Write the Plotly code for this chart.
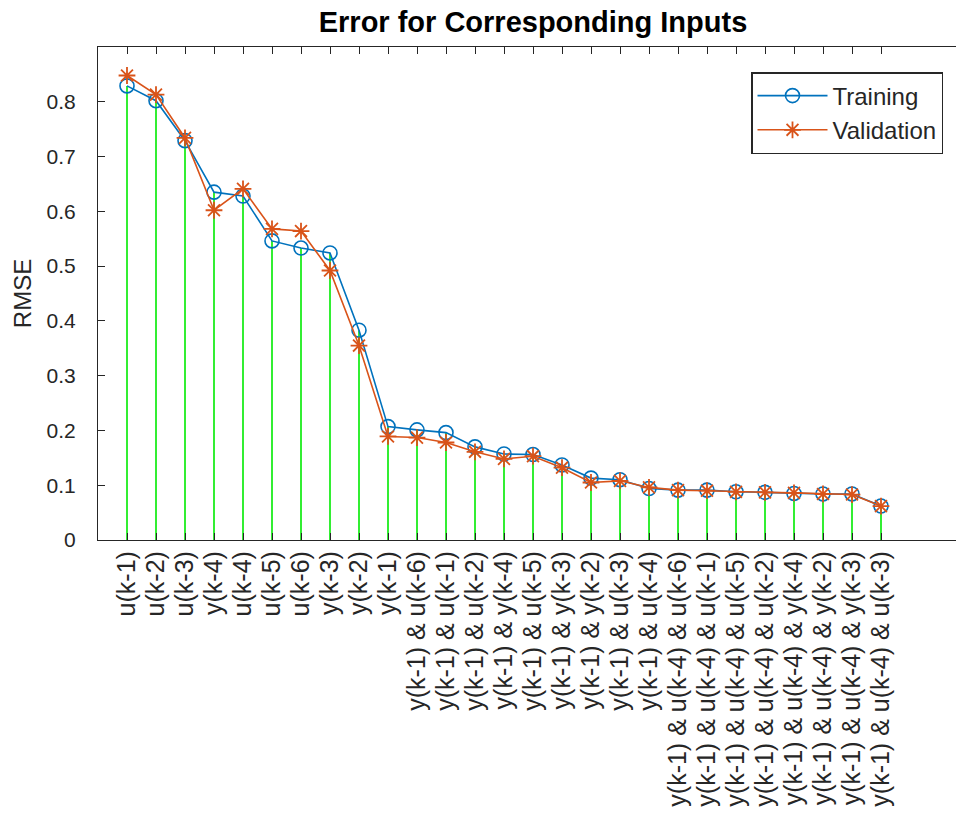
import plotly.graph_objects as go

# Candidate regressor sets, in the order they were evaluated
input_labels = [
    "u(k-1)", "u(k-2)", "u(k-3)", "y(k-4)", "u(k-4)", "u(k-5)", "u(k-6)",
    "y(k-3)", "y(k-2)", "y(k-1)",
    "y(k-1) & u(k-6)", "y(k-1) & u(k-1)", "y(k-1) & u(k-2)", "y(k-1) & y(k-4)",
    "y(k-1) & u(k-5)", "y(k-1) & y(k-3)", "y(k-1) & y(k-2)", "y(k-1) & u(k-3)",
    "y(k-1) & u(k-4)",
    "y(k-1) & u(k-4) & u(k-6)", "y(k-1) & u(k-4) & u(k-1)",
    "y(k-1) & u(k-4) & u(k-5)", "y(k-1) & u(k-4) & u(k-2)",
    "y(k-1) & u(k-4) & y(k-4)", "y(k-1) & u(k-4) & y(k-2)",
    "y(k-1) & u(k-4) & y(k-3)", "y(k-1) & u(k-4) & u(k-3)",
]

rmse_training = [
    0.829, 0.802, 0.729, 0.635, 0.628, 0.546, 0.533, 0.524, 0.383, 0.207,
    0.201, 0.196, 0.170, 0.157, 0.156, 0.137, 0.113, 0.110, 0.094,
    0.091, 0.091, 0.088, 0.087, 0.085, 0.084, 0.084, 0.062,
]

rmse_validation = [
    0.848, 0.813, 0.734, 0.602, 0.641, 0.568, 0.564, 0.492, 0.355, 0.189,
    0.187, 0.178, 0.161, 0.148, 0.153, 0.132, 0.105, 0.108, 0.096,
    0.091, 0.090, 0.088, 0.087, 0.086, 0.084, 0.083, 0.062,
]

y_ticks = [0, 0.1, 0.2, 0.3, 0.4, 0.5, 0.6, 0.7, 0.8]

idx = list(range(1, len(input_labels) + 1))

# stem segments from the baseline up to each training error
stem_x, stem_y = [], []
for i, v in zip(idx, rmse_training):
    stem_x += [i, i, None]
    stem_y += [0, v, None]

FONT = "Liberation Sans, Arial, Helvetica, sans-serif"
INK = "#262626"

fig = go.Figure()
fig.add_trace(go.Scatter(
    x=stem_x, y=stem_y, mode="lines",
    line=dict(color="#33ee33", width=2),
    showlegend=False, hoverinfo="skip",
))
fig.add_trace(go.Scatter(
    x=idx, y=rmse_training, mode="lines+markers", name="Training",
    line=dict(color="#0072BD", width=1.6),
    marker=dict(symbol="circle-open", size=14, color="#0072BD",
                line=dict(width=1.6, color="#0072BD")),
))
fig.add_trace(go.Scatter(
    x=idx, y=rmse_validation, mode="lines+markers", name="Validation",
    line=dict(color="#D95319", width=1.6),
    marker=dict(symbol="asterisk-open", size=14, color="#D95319",
                line=dict(width=1.8, color="#D95319")),
))

W, H = 956, 822
plot_left, plot_right = 98, 956
plot_top, plot_bottom = 47, 540
unit_px = 29.0
x_max = (plot_right - plot_left) / unit_px
pw = plot_right - plot_left
ph = plot_bottom - plot_top

fig.update_layout(
    width=W, height=H,
    margin=dict(l=plot_left, r=W - plot_right, t=plot_top, b=H - plot_bottom,
                pad=0, autoexpand=False),
    paper_bgcolor="white", plot_bgcolor="white",
    font=dict(family=FONT, color=INK, size=22),
    title=dict(
        text="<b>Error for Corresponding Inputs</b>",
        x=(plot_left + 968) / 2 / W, xanchor="center",
        y=1 - 22 / H, yanchor="middle",
        font=dict(family=FONT, size=29, color="black"),
    ),
    xaxis=dict(
        range=[0, x_max],
        tickmode="array", tickvals=idx, ticktext=input_labels,
        tickangle=-90, ticks="inside", ticklen=7, tickwidth=1,
        tickcolor=INK, showline=True, linecolor=INK, linewidth=1.2,
        mirror="ticks", showgrid=False, zeroline=False,
        tickfont=dict(family=FONT, size=25, color=INK),
    ),
    yaxis=dict(
        range=[0, 0.9],
        tickmode="array", tickvals=y_ticks,
        ticktext=[f"{t:g}" for t in y_ticks],
        ticks="inside", ticklen=7, tickwidth=1, tickcolor=INK,
        showline=True, linecolor=INK, linewidth=1.2,
        showgrid=False, zeroline=False, ticklabelstandoff=17,
        tickfont=dict(family=FONT, size=21, color=INK),
        title=dict(text="RMSE", font=dict(family=FONT, size=24, color=INK),
                   standoff=8),
    ),
    legend=dict(
        x=(943 - plot_left) / pw, xanchor="right",
        y=(plot_bottom - 72) / ph, yanchor="top",
        bgcolor="white", bordercolor=INK, borderwidth=1.5,
        font=dict(family=FONT, size=24, color=INK),
        itemwidth=70, tracegroupgap=0,
    ),
)

fig.write_html("out.html")
